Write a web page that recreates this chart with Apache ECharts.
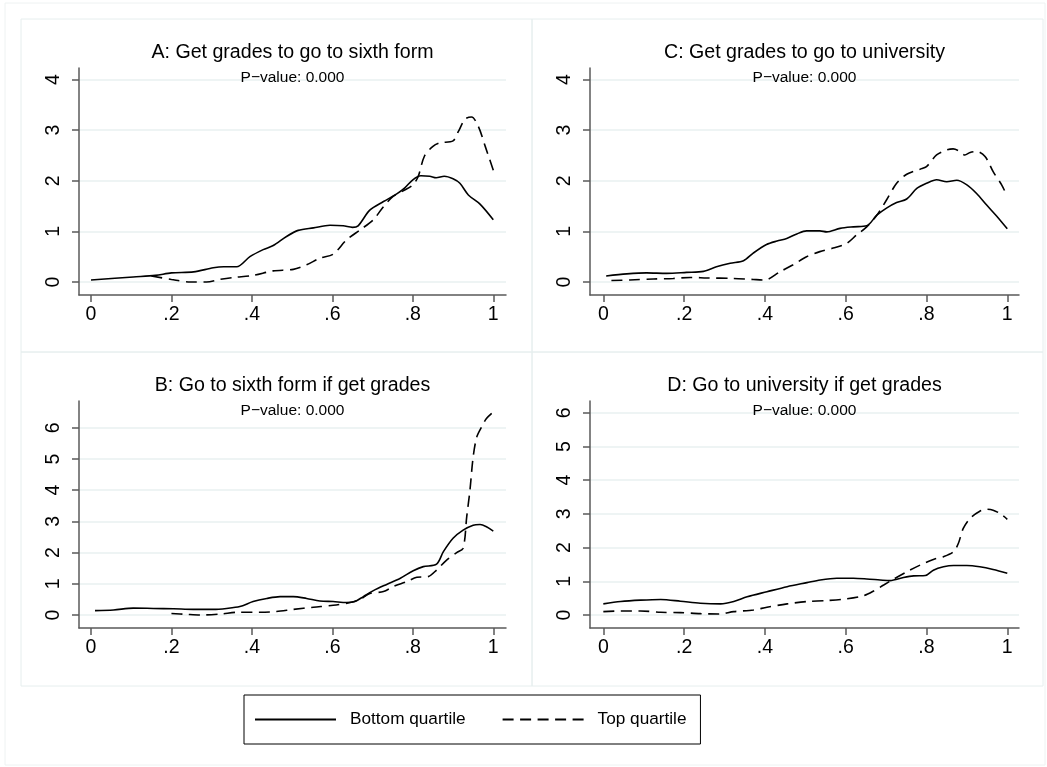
<!DOCTYPE html>
<html>
<head>
<meta charset="utf-8">
<script src="https://cdn.jsdelivr.net/npm/echarts@6/dist/echarts.min.js"></script>
<style>
html,body{margin:0;padding:0;background:#fff;}
#chart{width:1047px;height:767px;}
</style>
</head>
<body>
<div id="chart"></div>
<script>
// ---- data ----
const xTicks = [0, 0.2, 0.4, 0.6, 0.8, 1];
const xTickLabels = ['0', '.2', '.4', '.6', '.8', '1'];
const yTicksTop = [0, 1, 2, 3, 4];
const yTicksBottom = [0, 1, 2, 3, 4, 5, 6];
const seriesNames = ['Bottom quartile', 'Top quartile'];
const panelTitles = [
  'A: Get grades to go to sixth form',
  'C: Get grades to go to university',
  'B: Go to sixth form if get grades',
  'D: Go to university if get grades'
];
const pValueLabels = ['P\u2212value: 0.000', 'P\u2212value: 0.000', 'P\u2212value: 0.000', 'P\u2212value: 0.000'];

const aBottom = [[0,0.04],[0.105,0.1],[0.16,0.13],[0.2,0.18],[0.255,0.2],[0.304,0.28],[0.33,0.3],[0.362,0.3],[0.395,0.5],[0.428,0.64],[0.453,0.72],[0.486,0.9],[0.515,1.02],[0.553,1.07],[0.594,1.12],[0.627,1.11],[0.65,1.08],[0.664,1.11],[0.693,1.42],[0.727,1.59],[0.76,1.74],[0.78,1.86],[0.8,2.02],[0.82,2.1],[0.842,2.09],[0.858,2.06],[0.878,2.09],[0.9,2.04],[0.917,1.95],[0.938,1.72],[0.967,1.54],[1.0,1.23]];
const aTop = [[0.15,0.12],[0.2,0.05],[0.246,0.0],[0.287,0.0],[0.32,0.05],[0.354,0.09],[0.403,0.13],[0.453,0.22],[0.503,0.25],[0.536,0.34],[0.569,0.47],[0.602,0.55],[0.635,0.83],[0.669,1.03],[0.702,1.23],[0.727,1.49],[0.751,1.69],[0.776,1.8],[0.8,1.92],[0.813,2.08],[0.829,2.49],[0.85,2.68],[0.867,2.75],[0.9,2.79],[0.913,2.97],[0.93,3.22],[0.946,3.26],[0.963,3.07],[0.98,2.68],[1.0,2.21]];
const cBottom = [[0.007,0.12],[0.058,0.16],[0.107,0.18],[0.157,0.17],[0.206,0.19],[0.248,0.21],[0.28,0.3],[0.314,0.37],[0.347,0.42],[0.371,0.57],[0.404,0.74],[0.43,0.81],[0.454,0.86],[0.479,0.95],[0.503,1.01],[0.536,1.01],[0.553,0.99],[0.586,1.06],[0.619,1.09],[0.652,1.11],[0.677,1.32],[0.701,1.46],[0.726,1.57],[0.751,1.64],[0.776,1.85],[0.8,1.95],[0.825,2.02],[0.85,1.98],[0.875,2.01],[0.9,1.92],[0.924,1.75],[0.949,1.52],[0.974,1.3],[1.0,1.05]];
const cTop = [[0.02,0.03],[0.066,0.04],[0.124,0.06],[0.173,0.07],[0.215,0.09],[0.256,0.08],[0.322,0.07],[0.371,0.05],[0.4,0.04],[0.437,0.2],[0.47,0.34],[0.503,0.5],[0.536,0.6],[0.569,0.67],[0.602,0.76],[0.627,0.93],[0.652,1.09],[0.677,1.32],[0.701,1.62],[0.726,1.95],[0.751,2.13],[0.784,2.23],[0.8,2.28],[0.825,2.51],[0.85,2.61],[0.866,2.63],[0.883,2.58],[0.895,2.51],[0.908,2.56],[0.924,2.58],[0.945,2.48],[0.965,2.18],[0.986,1.92],[1.0,1.69]];
const bBottom = [[0.01,0.14],[0.056,0.16],[0.105,0.22],[0.155,0.21],[0.205,0.2],[0.254,0.18],[0.304,0.18],[0.337,0.21],[0.37,0.27],[0.403,0.43],[0.437,0.53],[0.47,0.59],[0.503,0.59],[0.536,0.53],[0.569,0.45],[0.602,0.43],[0.635,0.4],[0.656,0.43],[0.677,0.59],[0.702,0.78],[0.735,0.98],[0.768,1.17],[0.801,1.42],[0.826,1.55],[0.859,1.63],[0.876,2.03],[0.9,2.46],[0.925,2.72],[0.95,2.88],[0.967,2.9],[0.983,2.83],[1.0,2.69]];
const bTop = [[0.2,0.05],[0.238,0.02],[0.271,0.0],[0.32,0.03],[0.37,0.09],[0.42,0.09],[0.461,0.11],[0.503,0.18],[0.553,0.25],[0.602,0.31],[0.644,0.4],[0.669,0.5],[0.693,0.69],[0.727,0.75],[0.751,0.91],[0.785,1.07],[0.81,1.21],[0.838,1.23],[0.859,1.44],[0.884,1.76],[0.909,2.0],[0.925,2.14],[0.934,3.15],[0.942,4.0],[0.95,5.07],[0.959,5.71],[0.971,6.03],[0.983,6.3],[1.0,6.51]];
const dBottom = [[0,0.33],[0.043,0.4],[0.092,0.44],[0.142,0.46],[0.191,0.41],[0.24,0.35],[0.29,0.33],[0.323,0.4],[0.356,0.54],[0.405,0.69],[0.455,0.84],[0.504,0.96],[0.537,1.04],[0.578,1.09],[0.619,1.09],[0.652,1.07],[0.685,1.04],[0.71,1.02],[0.743,1.11],[0.768,1.16],[0.797,1.17],[0.817,1.33],[0.842,1.43],[0.867,1.47],[0.9,1.47],[0.932,1.43],[0.965,1.35],[1.0,1.24]];
const dTop = [[0,0.1],[0.043,0.12],[0.092,0.12],[0.142,0.08],[0.191,0.07],[0.24,0.04],[0.286,0.03],[0.323,0.1],[0.372,0.15],[0.405,0.23],[0.455,0.33],[0.504,0.4],[0.554,0.43],[0.603,0.48],[0.644,0.57],[0.669,0.71],[0.694,0.89],[0.718,1.06],[0.751,1.28],[0.784,1.48],[0.817,1.65],[0.842,1.73],[0.867,1.88],[0.879,2.13],[0.891,2.57],[0.908,2.87],[0.932,3.08],[0.949,3.14],[0.965,3.11],[0.982,3.01],[1.0,2.84]];

const panelData = [[aBottom, aTop], [cBottom, cTop], [bBottom, bTop], [dBottom, dTop]];

// ---- layout ----
const FONT = '"Liberation Sans", Arial, Helvetica, sans-serif';
const grids = [
  {left: 79, top: 68, width: 427, height: 227},
  {left: 590, top: 68, width: 429, height: 227},
  {left: 79, top: 401, width: 427, height: 227},
  {left: 590, top: 401, width: 429, height: 227}
];
const xRanges = [[-0.0298, 1.0316], [-0.033, 1.029], [-0.0298, 1.0316], [-0.033, 1.029]];
const yRanges = [[-0.257, 4.229], [-0.257, 4.229], [-0.417, 6.859], [-0.386, 6.35]];
const yTickSets = [yTicksTop, yTicksTop, yTicksBottom, yTicksBottom];
const titleTops = [43, 43, 376, 376];
const pTops = [69.5, 69.5, 402.5, 402.5];

const axisColor = '#5a5a5a';
const gridColor = '#e9f0f1';
const dash = [11, 6.5];

const option = {
  animation: false,
  backgroundColor: '#ffffff',
  graphic: [
    {type: 'rect', shape: {x: 5, y: 3, width: 1040, height: 762}, style: {fill: 'none', stroke: '#eef2f2', lineWidth: 1}, silent: true},
    {type: 'rect', shape: {x: 21, y: 19, width: 511, height: 333}, style: {fill: 'none', stroke: '#e6eeee', lineWidth: 1}, silent: true},
    {type: 'rect', shape: {x: 532, y: 19, width: 511, height: 333}, style: {fill: 'none', stroke: '#e6eeee', lineWidth: 1}, silent: true},
    {type: 'rect', shape: {x: 21, y: 352, width: 511, height: 334}, style: {fill: 'none', stroke: '#e6eeee', lineWidth: 1}, silent: true},
    {type: 'rect', shape: {x: 532, y: 352, width: 511, height: 334}, style: {fill: 'none', stroke: '#e6eeee', lineWidth: 1}, silent: true}
  ],
  title: [],
  legend: {
    data: seriesNames,
    left: 244,
    top: 695,
    orient: 'horizontal',
    itemWidth: 81,
    itemHeight: 14,
    itemGap: 36,
    padding: [16, 14, 16, 10],
    borderColor: '#000',
    borderWidth: 1,
    itemStyle: {opacity: 0},
    textStyle: {fontSize: 17.2, color: '#000', fontFamily: FONT, padding: [0, 0, 0, 9]}
  },
  grid: grids.map(g => Object.assign({containLabel: false}, g)),
  xAxis: [],
  yAxis: [],
  series: []
};

for (let i = 0; i < 4; i++) {
  const cx = grids[i].left + grids[i].width / 2;
  option.title.push({
    text: panelTitles[i], left: cx, top: titleTops[i], textAlign: 'center', padding: 0,
    textStyle: {fontSize: 19.6, fontWeight: 'normal', color: '#000', fontFamily: FONT}
  });
  option.title.push({
    text: pValueLabels[i], left: cx, top: pTops[i], textAlign: 'center', padding: 0,
    textStyle: {fontSize: 15.5, fontWeight: 'normal', color: '#000', fontFamily: FONT}
  });
  option.xAxis.push({
    type: 'value', gridIndex: i, min: xRanges[i][0], max: xRanges[i][1],
    axisLine: {show: true, onZero: false, lineStyle: {color: axisColor, width: 1.5}},
    axisTick: {show: true, length: 7, customValues: xTicks, lineStyle: {color: axisColor, width: 1.5}},
    axisLabel: {
      customValues: xTicks, margin: 10, fontSize: 19.5, color: '#000', fontFamily: FONT,
      formatter: v => { const k = xTicks.findIndex(t => Math.abs(t - v) < 1e-9); return k >= 0 ? xTickLabels[k] : ''; }
    },
    splitLine: {show: false}
  });
  option.yAxis.push({
    type: 'value', gridIndex: i, min: yRanges[i][0], max: yRanges[i][1],
    axisLine: {show: true, onZero: false, lineStyle: {color: axisColor, width: 1.5}},
    axisTick: {show: true, length: 7, customValues: yTickSets[i], lineStyle: {color: axisColor, width: 1.5}},
    axisLabel: {customValues: yTickSets[i], rotate: 90, margin: 15, fontSize: 19.5, color: '#000', fontFamily: FONT,
      formatter: v => String(Math.round(v))},
    splitLine: {show: true, lineStyle: {color: gridColor, width: 1.5}}
  });
  for (let s = 0; s < 2; s++) {
    option.series.push({
      name: seriesNames[s], type: 'line', xAxisIndex: i, yAxisIndex: i,
      data: panelData[i][s], showSymbol: false, symbol: 'none', smooth: 0.3,
      lineStyle: {color: '#000', width: 1.6, type: s === 0 ? 'solid' : dash},
      itemStyle: {color: '#000'}, z: 3
    });
  }
}

const chart = echarts.init(document.getElementById('chart'), null, {renderer: 'canvas'});
chart.setOption(option);
</script>
</body>
</html>
